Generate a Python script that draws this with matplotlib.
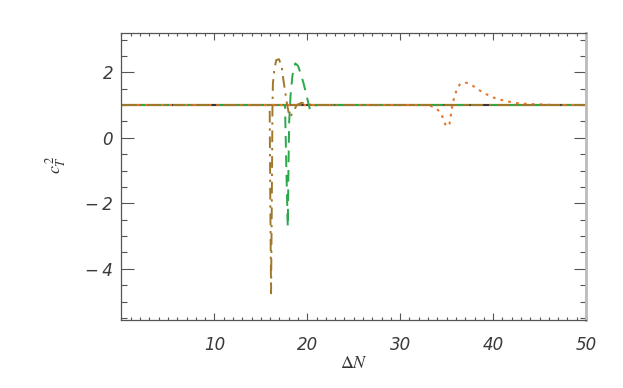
import matplotlib
matplotlib.use("Agg")
import matplotlib.pyplot as plt
from matplotlib.ticker import MultipleLocator, FixedLocator

# ---- data ----
base_x = [0, 50]
base_y = [1, 1]

navy_x = [0, 50]
navy_y = [1, 1]

brown_x = [0, 15.95, 16.02, 16.1, 16.18, 16.25, 16.3, 16.45, 16.65, 16.95, 17.25, 17.43,
           17.6, 17.8, 17.97, 18.15, 18.5, 18.87, 19.4, 19.95, 20.5, 50]
brown_y = [1, 1, -2.0, -4.75, -2.0, 0.9, 1.66, 2.06, 2.37, 2.4, 2.17, 1.76,
           1.45, 1.06, 0.8, 0.63, 0.8, 1.0, 1.07, 1.03, 1.0, 1.0]

green_x = [0, 17.6, 17.75, 17.9, 17.97, 18.05, 18.2, 18.4, 18.7, 19.0, 19.3, 19.6,
           19.95, 20.3, 20.6, 21.0, 50]
green_y = [1, 1, -1.0, -2.72, -1.0, 0.5, 1.3, 1.9, 2.27, 2.2, 1.95, 1.66,
           1.25, 0.85, 0.88, 1.0, 1.0]

orange_x = [0, 33.0, 33.8, 34.3, 34.55, 34.7, 35.0, 35.3, 35.4, 35.55, 35.65, 35.8,
            35.97, 36.15, 36.5, 37.15, 37.7, 38.8, 39.9, 41.2, 42.5, 43.8, 45.1, 46.5, 50]
orange_y = [1, 1, 0.92, 0.78, 0.64, 0.49, 0.34, 0.42, 0.57, 0.88, 1.05, 1.21,
            1.37, 1.52, 1.66, 1.68, 1.61, 1.40, 1.24, 1.13, 1.06, 1.03, 1.02, 1.0, 1.0]

x_ticks = [10, 20, 30, 40, 50]
y_ticks = [-4, -2, 0, 2]

plt.rcParams['mathtext.fontset'] = 'stix'

fig = plt.figure(figsize=(6.23, 3.88), dpi=100)
ax = fig.add_axes([0.195, 0.1765, 0.7456, 0.7385])

c_brown = '#a0782c'
c_green = '#2aa84a'
c_orange = '#e8762a'
c_navy = '#2a2f45'

ax.plot(base_x, base_y, color=c_brown, lw=1.6, solid_capstyle='butt')
ax.plot(navy_x, navy_y, color=c_navy, lw=1.3, dashes=(4, 14, 1, 6))
ax.plot(green_x, green_y, color=c_green, lw=1.4, dashes=(6, 4))
ax.plot(orange_x, orange_y, color=c_orange, lw=1.5, dashes=(1.3, 2.5))
ax.plot(brown_x, brown_y, color=c_brown, lw=1.4, dashes=(6, 3, 1.2, 3))

ax.set_xlim(0, 50)
ax.set_ylim(-5.55, 3.2)

ax.xaxis.set_major_locator(FixedLocator(x_ticks))
ax.xaxis.set_minor_locator(MultipleLocator(1))
ax.yaxis.set_major_locator(FixedLocator(y_ticks))
ax.yaxis.set_minor_locator(MultipleLocator(0.5))

axc = '#555555'
ax.tick_params(which='both', direction='in', top=True, right=True, colors=axc,
               labelcolor='#3a3a3a', width=0.8)
ax.tick_params(axis='x', which='major', length=5)
ax.tick_params(axis='x', which='minor', length=2.5)
ax.tick_params(axis='y', which='major', length=9)
ax.tick_params(axis='y', which='minor', length=4.5)
ax.tick_params(axis='x', pad=12)
ax.tick_params(axis='y', pad=6)
for s in ['left', 'bottom', 'top']:
    ax.spines[s].set_color(axc)
    ax.spines[s].set_linewidth(0.9)
ax.spines['right'].set_color('#bbbbbb')
ax.spines['right'].set_linewidth(2)

ax.set_xticklabels([str(v) for v in x_ticks], fontstyle='italic', fontsize=12,
                   family='DejaVu Sans')
ax.set_yticklabels([('\u2212\u2009' + str(abs(v))) if v < 0 else str(v) for v in y_ticks],
                   fontstyle='italic', fontsize=12, family='DejaVu Sans')

ax.set_xlabel(r'$\Delta N$', fontsize=13, color='#333333', labelpad=0)
ax.set_ylabel(r'$c_T^{\,2}$', fontsize=13, color='#333333')
ax.yaxis.set_label_coords(-0.115, 0.54)

fig.savefig('out.png', dpi=100)
